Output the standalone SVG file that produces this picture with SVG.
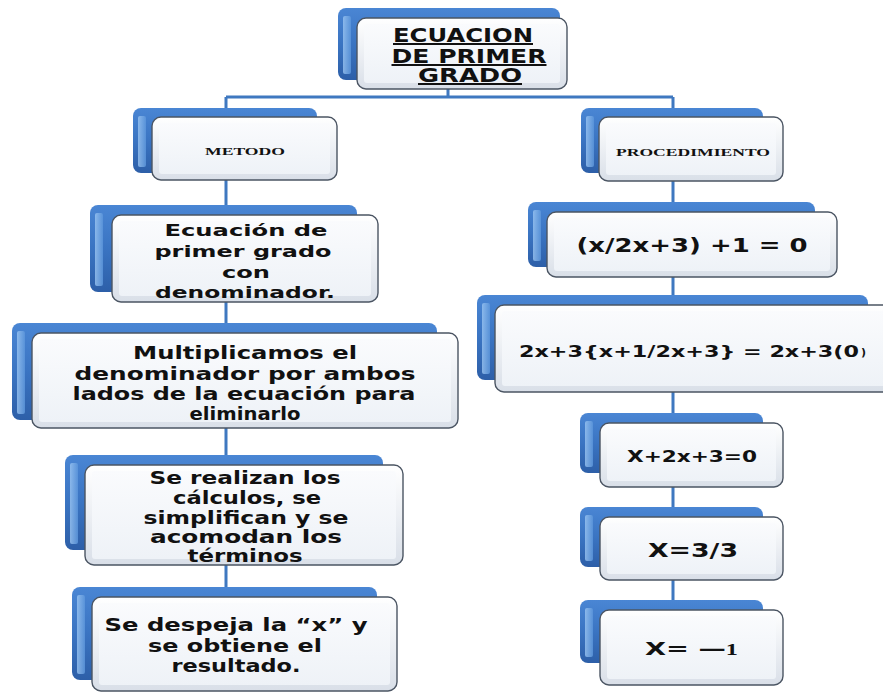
<svg xmlns="http://www.w3.org/2000/svg" width="883" height="693" viewBox="0 0 883 693">
  <defs>
    <linearGradient id="blueFill" x1="0" y1="0" x2="0" y2="1">
      <stop offset="0" stop-color="#4a86d4"/>
      <stop offset="0.5" stop-color="#3a74c2"/>
      <stop offset="1" stop-color="#2d5fa8"/>
    </linearGradient>
    <linearGradient id="blueEdge" x1="0" y1="0" x2="1" y2="0">
      <stop offset="0" stop-color="#9cc6f2"/>
      <stop offset="1" stop-color="#5d97dc"/>
    </linearGradient>
    <linearGradient id="cardFill" x1="0" y1="0" x2="0" y2="1">
      <stop offset="0" stop-color="#ffffff"/>
      <stop offset="1" stop-color="#d9dfe8"/>
    </linearGradient>
    <linearGradient id="cardFace" x1="0" y1="0" x2="0" y2="1">
      <stop offset="0" stop-color="#fafbfd"/>
      <stop offset="1" stop-color="#eef2f7"/>
    </linearGradient>
  </defs>
  <style>
    .back { fill: url(#blueFill); }
    .shine { fill: url(#blueEdge); opacity: 0.8; }
    .card { fill: url(#cardFill); stroke: #4b5563; stroke-width: 1.4; }
    .face { fill: url(#cardFace); }
    .link { stroke: #3f78c0; stroke-width: 3; fill: none; }
    .txt { font-family: "DejaVu Sans", Verdana, sans-serif; font-weight: bold; fill: #111; text-anchor: middle; }
    .ser { font-family: "Liberation Serif", "Times New Roman", serif; font-weight: bold; fill: #111; text-anchor: middle; }
    .start { text-anchor: start; }
    .ul { text-decoration: underline; }
  </style>

  <rect width="883" height="693" fill="#ffffff"/>

  <!-- connectors -->
  <g id="connectors">
    <path class="link" d="M448 88 V97 M226 97 H673 M226 97 V600 M673 97 V612"/>
  </g>

  <!-- title -->
  <g id="n-title">
    <rect class="back" x="338" y="8" width="222" height="72" rx="8"/>
    <rect class="shine" x="343" y="16" width="8" height="58" rx="2"/>
    <rect class="card" x="357" y="18" width="210" height="71" rx="9"/>
    <rect class="face" x="364" y="24" width="196" height="59" rx="3"/>
    <text class="txt ul" font-size="20" x="463" y="42" textLength="140" lengthAdjust="spacingAndGlyphs">ECUACION</text>
    <text class="txt ul" font-size="20" x="469" y="63" textLength="155" lengthAdjust="spacingAndGlyphs">DE PRIMER</text>
    <text class="txt ul" font-size="20" x="470" y="82" textLength="104" lengthAdjust="spacingAndGlyphs">GRADO</text>
  </g>

  <!-- branch headers -->
  <g id="n-metodo">
    <rect class="back" x="133" y="108" width="184" height="65" rx="8"/>
    <rect class="shine" x="138" y="116" width="8" height="51" rx="2"/>
    <rect class="card" x="152" y="117" width="185" height="63" rx="9"/>
    <rect class="face" x="159" y="123" width="171" height="51" rx="3"/>
    <text class="ser" font-size="10.5" x="245" y="155" textLength="80" lengthAdjust="spacingAndGlyphs">METODO</text>
  </g>

  <g id="n-procedimiento">
    <rect class="back" x="581" y="108" width="182" height="65" rx="8"/>
    <rect class="shine" x="586" y="116" width="8" height="51" rx="2"/>
    <rect class="card" x="599" y="117" width="184" height="64" rx="9"/>
    <rect class="face" x="606" y="123" width="170" height="52" rx="3"/>
    <text class="ser" font-size="11" x="693" y="156" textLength="154" lengthAdjust="spacingAndGlyphs">PROCEDIMIENTO</text>
  </g>

  <!-- left column: method steps -->
  <g id="n-m1">
    <rect class="back" x="90" y="205" width="267" height="87" rx="8"/>
    <rect class="shine" x="95" y="213" width="8" height="73" rx="2"/>
    <rect class="card" x="112" y="215" width="266" height="87" rx="9"/>
    <rect class="face" x="119" y="221" width="252" height="75" rx="3"/>
    <text class="txt" font-size="16.5" x="246" y="236" textLength="163" lengthAdjust="spacingAndGlyphs">Ecuación de</text>
    <text class="txt" font-size="16.5" x="243" y="257" textLength="177" lengthAdjust="spacingAndGlyphs">primer grado</text>
    <text class="txt" font-size="16.5" x="246" y="278" textLength="48" lengthAdjust="spacingAndGlyphs">con</text>
    <text class="txt" font-size="16.5" x="245" y="298" textLength="180" lengthAdjust="spacingAndGlyphs">denominador.</text>
  </g>

  <g id="n-m2">
    <rect class="back" x="12" y="323" width="425" height="97" rx="8"/>
    <rect class="shine" x="17" y="331" width="8" height="83" rx="2"/>
    <rect class="card" x="32" y="333" width="426" height="95" rx="9"/>
    <rect class="face" x="39" y="339" width="412" height="83" rx="3"/>
    <text class="txt" font-size="17.5" x="245" y="359" textLength="224" lengthAdjust="spacingAndGlyphs">Multiplicamos el</text>
    <text class="txt" font-size="17.5" x="245" y="380" textLength="341" lengthAdjust="spacingAndGlyphs">denominador por ambos</text>
    <text class="txt" font-size="17.5" x="244" y="400" textLength="343" lengthAdjust="spacingAndGlyphs">lados de la ecuación para</text>
    <text class="txt" font-size="17.5" x="245" y="420" textLength="111" lengthAdjust="spacingAndGlyphs">eliminarlo</text>
  </g>

  <g id="n-m3">
    <rect class="back" x="65" y="455" width="318" height="95" rx="8"/>
    <rect class="shine" x="70" y="463" width="8" height="81" rx="2"/>
    <rect class="card" x="85" y="465" width="318" height="100" rx="9"/>
    <rect class="face" x="92" y="471" width="304" height="88" rx="3"/>
    <text class="txt" font-size="17" x="245" y="484" textLength="191" lengthAdjust="spacingAndGlyphs">Se realizan los</text>
    <text class="txt" font-size="17" x="247" y="504" textLength="148" lengthAdjust="spacingAndGlyphs">cálculos, se</text>
    <text class="txt" font-size="17" x="246" y="524" textLength="205" lengthAdjust="spacingAndGlyphs">simplifican y se</text>
    <text class="txt" font-size="17" x="246" y="543" textLength="192" lengthAdjust="spacingAndGlyphs">acomodan los</text>
    <text class="txt" font-size="17" x="245" y="562" textLength="115" lengthAdjust="spacingAndGlyphs">términos</text>
  </g>

  <g id="n-m4">
    <rect class="back" x="72" y="587" width="305" height="93" rx="8"/>
    <rect class="shine" x="77" y="595" width="8" height="79" rx="2"/>
    <rect class="card" x="92" y="597" width="305" height="94" rx="9"/>
    <rect class="face" x="99" y="603" width="291" height="82" rx="3"/>
    <text class="txt" font-size="17.5" x="236" y="631" textLength="263" lengthAdjust="spacingAndGlyphs">Se despeja la “x” y</text>
    <text class="txt" font-size="17.5" x="235" y="652" textLength="174" lengthAdjust="spacingAndGlyphs">se obtiene el</text>
    <text class="txt" font-size="17.5" x="236" y="672" textLength="129" lengthAdjust="spacingAndGlyphs">resultado.</text>
  </g>

  <!-- right column: procedure steps -->
  <g id="n-p1">
    <rect class="back" x="528" y="202" width="287" height="65" rx="8"/>
    <rect class="shine" x="533" y="210" width="8" height="51" rx="2"/>
    <rect class="card" x="547" y="212" width="290" height="65" rx="9"/>
    <rect class="face" x="554" y="218" width="276" height="53" rx="3"/>
    <text class="txt" font-size="19" x="692" y="252" textLength="231" lengthAdjust="spacingAndGlyphs">(x/2x+3) +1 = 0</text>
  </g>

  <g id="n-p2">
    <rect class="back" x="477" y="295" width="391" height="85" rx="8"/>
    <rect class="shine" x="482" y="303" width="8" height="71" rx="2"/>
    <rect class="card" x="495" y="305" width="400" height="87" rx="9"/>
    <rect class="face" x="502" y="311" width="386" height="75" rx="3"/>
    <text class="txt start" font-size="16.5" x="519" y="357" textLength="340" lengthAdjust="spacingAndGlyphs">2x+3{x+1/2x+3} = 2x+3(0</text>
    <text class="txt start" font-size="11" x="861" y="356">)</text>
  </g>

  <g id="n-p3">
    <rect class="back" x="580" y="413" width="183" height="60" rx="8"/>
    <rect class="shine" x="585" y="421" width="8" height="46" rx="2"/>
    <rect class="card" x="600" y="423" width="183" height="64" rx="9"/>
    <rect class="face" x="607" y="429" width="169" height="52" rx="3"/>
    <text class="txt" font-size="16.5" x="692" y="462" textLength="130" lengthAdjust="spacingAndGlyphs">X+2x+3=0</text>
  </g>

  <g id="n-p4">
    <rect class="back" x="580" y="507" width="183" height="60" rx="8"/>
    <rect class="shine" x="585" y="515" width="8" height="46" rx="2"/>
    <rect class="card" x="600" y="517" width="183" height="63" rx="9"/>
    <rect class="face" x="607" y="523" width="169" height="51" rx="3"/>
    <text class="txt" font-size="20" x="693" y="557" textLength="90" lengthAdjust="spacingAndGlyphs">X=3/3</text>
  </g>

  <g id="n-p5">
    <rect class="back" x="580" y="600" width="183" height="63" rx="8"/>
    <rect class="shine" x="585" y="608" width="8" height="49" rx="2"/>
    <rect class="card" x="600" y="610" width="183" height="75" rx="9"/>
    <rect class="face" x="607" y="616" width="169" height="63" rx="3"/>
    <text class="txt start" font-size="18" x="645" y="655" textLength="93" lengthAdjust="spacingAndGlyphs">X= —<tspan font-family="Liberation Serif, serif" font-size="16">1</tspan></text>
  </g>
</svg>
